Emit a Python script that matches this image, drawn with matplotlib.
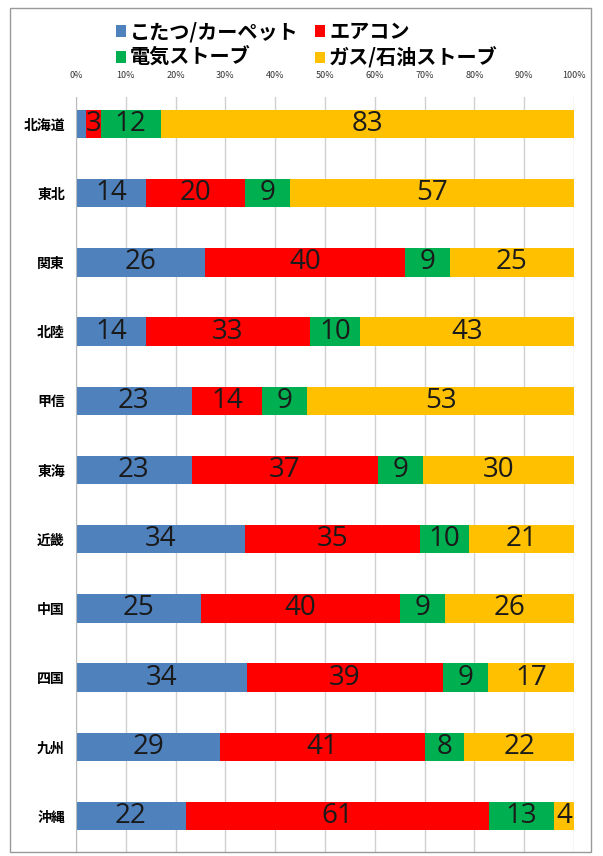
import matplotlib.pyplot as plt
import numpy as np
from matplotlib.patches import Rectangle

plt.rcParams['font.family'] = ['Noto Sans CJK JP', 'DejaVu Sans']

regions = ["北海道", "東北", "関東", "北陸", "甲信", "東海", "近畿", "中国", "四国", "九州", "沖縄"]
kotatsu = [2, 14, 26, 14, 23, 23, 34, 25, 34, 29, 22]
aircon = [3, 20, 40, 33, 14, 37, 35, 40, 39, 41, 61]
denki = [12, 9, 9, 10, 9, 9, 10, 9, 9, 8, 13]
gas = [83, 57, 25, 43, 53, 30, 21, 26, 17, 22, 4]

names = ["こたつ/カーペット", "エアコン", "電気ストーブ", "ガス/石油ストーブ"]
colors = ["#4F81BD", "#FF0000", "#00B050", "#FFC000"]

data = np.array([kotatsu, aircon, denki, gas], dtype=float)
share = data / data.sum(axis=0) * 100

fig = plt.figure(figsize=(6.03, 8.56), dpi=100)
fig.patches.append(Rectangle((10/603, 4/856), 581/603, 844/856, transform=fig.transFigure,
                             fill=False, edgecolor="#999999", linewidth=1))
ax = fig.add_axes([76/603, 4/856, 498/603, 755/856])

y = np.arange(len(regions))
left = np.zeros(len(regions))
bars = []
for i in range(4):
    b = ax.barh(y, share[i], left=left, height=0.41, color=colors[i], label=names[i], zorder=2)
    bars.append(b)
    for j in range(len(regions)):
        if data[i, j] >= 3:
            ax.text(left[j] + share[i, j] / 2, y[j], str(int(data[i, j])), ha="center", va="center",
                    fontsize=20, color="#1a1a1a", family=["Open Sans", "DejaVu Sans"], zorder=3)
    left += share[i]

ax.set_xlim(0, 100)
ax.set_ylim(10.52, -0.39)
ax.set_xticks(np.arange(0, 101, 10))
ax.set_xticklabels([f"{v}%" for v in range(0, 101, 10)], fontsize=6.5, color="#333333")
ax.xaxis.tick_top()
ax.tick_params(axis="x", length=0, pad=12)
ax.set_yticks(y)
ax.set_yticklabels(regions, fontsize=10, fontweight="bold")
ax.tick_params(axis="y", length=0, pad=8)
ax.grid(axis="x", color="#d0d0d0", linewidth=1, zorder=0)
for s in ["top", "right", "bottom"]:
    ax.spines[s].set_visible(False)
ax.spines["left"].set_color("#bbbbbb")

order = [0, 2, 1, 3]
fig.legend([bars[k] for k in order], [names[k] for k in order], ncol=2, loc="upper left",
           bbox_to_anchor=(98/603, 1 - 3/856), frameon=False, handlelength=0.5, handleheight=0.5,
           handletextpad=0.2, columnspacing=0.8, labelspacing=0.25,
           prop={"family": ["Noto Sans CJK JP", "DejaVu Sans"], "weight": "bold", "size": 14.5})

fig.savefig("out.png", dpi=100)
